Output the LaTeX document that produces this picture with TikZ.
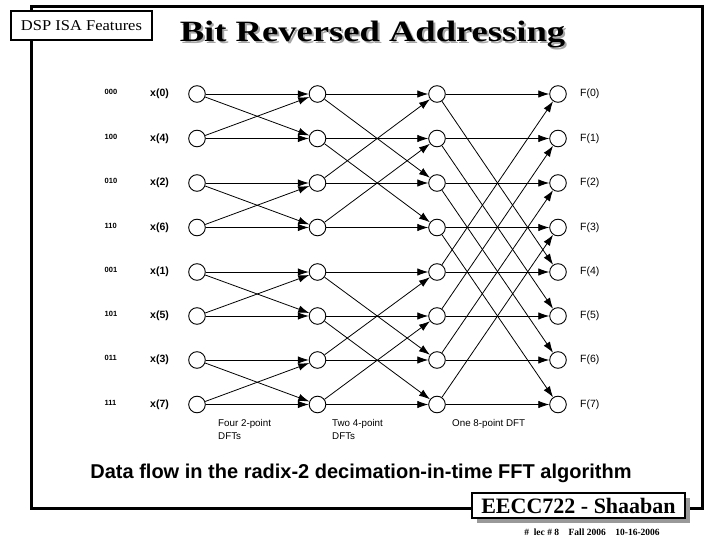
\documentclass[tikz,border=0pt]{standalone}
\usepackage{fontspec}
\usepackage{graphicx}
\setmainfont{Liberation Serif}
\newfontfamily\arial{Liberation Sans}
\usetikzlibrary{arrows.meta}
\newcommand{\titletext}{\scalebox{1.24}[1]{\fontsize{29.5}{30}\selectfont\bfseries Bit Reversed Addressing}}
\tikzset{
  dot/.style={circle,draw,line width=0.9pt,minimum size=16.6pt,inner sep=0pt,fill=white},
  flow/.style={line width=0.8pt,-{Latex[length=11pt,width=7.5pt]}},
  binlab/.style={anchor=west,inner sep=0pt,font=\arial\bfseries\fontsize{7.5}{8}\selectfont},
  xlab/.style={anchor=west,inner sep=0pt,font=\arial\bfseries\fontsize{10.5}{12}\selectfont},
  flab/.style={anchor=west,inner sep=0pt,font=\arial\fontsize{10.5}{12}\selectfont},
  stagelab/.style={anchor=north west,inner sep=0pt,align=left,font=\arial\fontsize{9.8}{13}\selectfont},
}
\begin{document}
\begin{tikzpicture}[x=1pt,y=-1pt]
\useasboundingbox (0,0) rectangle (720,540);
% frame
\draw[line width=3pt] (31,7) rectangle (702,508);
% DSP box
\node[draw,line width=2pt,fill=white,minimum width=141pt,minimum height=29pt,inner sep=0pt] (dsp) at (81.5,25.5) {\scalebox{1.1}[1]{\fontsize{15}{15}\selectfont DSP ISA Features}};
% title with shadow
\node[anchor=base,inner sep=0pt] (title) at (372.5,42) {\makebox[0pt][l]{\hspace{2pt}\raisebox{-2pt}{\color{black!35}\titletext}}\titletext};
% nodes
\foreach \r/\y/\b/\xi in {0/94/000/0,1/138.5/100/4,2/183/010/2,3/227.5/110/6,4/272/001/1,5/316/101/5,6/360/011/3,7/404.5/111/7}{
  \foreach \c/\x in {1/197,2/317.5,3/437,4/558}{
    \node[dot] (n\c\r) at (\x,\y) {};
  }
  \node[binlab] (b\r) at (104.5,\y-2) {\b};
  \node[xlab] (x\r) at (150,\y) {x(\xi)};
  \node[flab] (f\r) at (580,\y) {F(\r)};
}
% stage 1
\foreach \a/\b in {0/1,2/3,4/5,6/7}{
  \draw[flow] (n1\a) -- (n2\a);
  \draw[flow] (n1\a) -- (n2\b);
  \draw[flow] (n1\b) -- (n2\a);
  \draw[flow] (n1\b) -- (n2\b);
}
% stage 2
\foreach \a/\b in {0/2,1/3,4/6,5/7}{
  \draw[flow] (n2\a) -- (n3\a);
  \draw[flow] (n2\a) -- (n3\b);
  \draw[flow] (n2\b) -- (n3\a);
  \draw[flow] (n2\b) -- (n3\b);
}
% stage 3
\foreach \a/\b in {0/4,1/5,2/6,3/7}{
  \draw[flow] (n3\a) -- (n4\a);
  \draw[flow] (n3\a) -- (n4\b);
  \draw[flow] (n3\b) -- (n4\a);
  \draw[flow] (n3\b) -- (n4\b);
}
% stage labels
\node[stagelab] (s1) at (218,419) {Four 2-point\\DFTs};
\node[stagelab] (s2) at (332,419) {Two 4-point\\DFTs};
\node[stagelab] (s3) at (452,419) {One 8-point DFT};
% caption
\node[anchor=base,inner sep=0pt,font=\arial\bfseries\fontsize{20}{22}\selectfont] (cap) at (361,478) {Data flow in the radix-2 decimation-in-time FFT algorithm};
% footer box
\fill[black!40] (477,498) rectangle (690,523);
\node[draw,line width=2pt,fill=white,minimum width=213pt,minimum height=25pt,inner sep=0pt] (foot) at (578.5,505.5) {\fontsize{22}{22}\selectfont\bfseries EECC722 - Shaaban};
\node[anchor=base,inner sep=0pt,font=\fontsize{9.5}{10}\selectfont\bfseries] (lec) at (592,535) {\#\ \ lec \# 8\quad Fall 2006\quad 10-16-2006};
\end{tikzpicture}
\end{document}
